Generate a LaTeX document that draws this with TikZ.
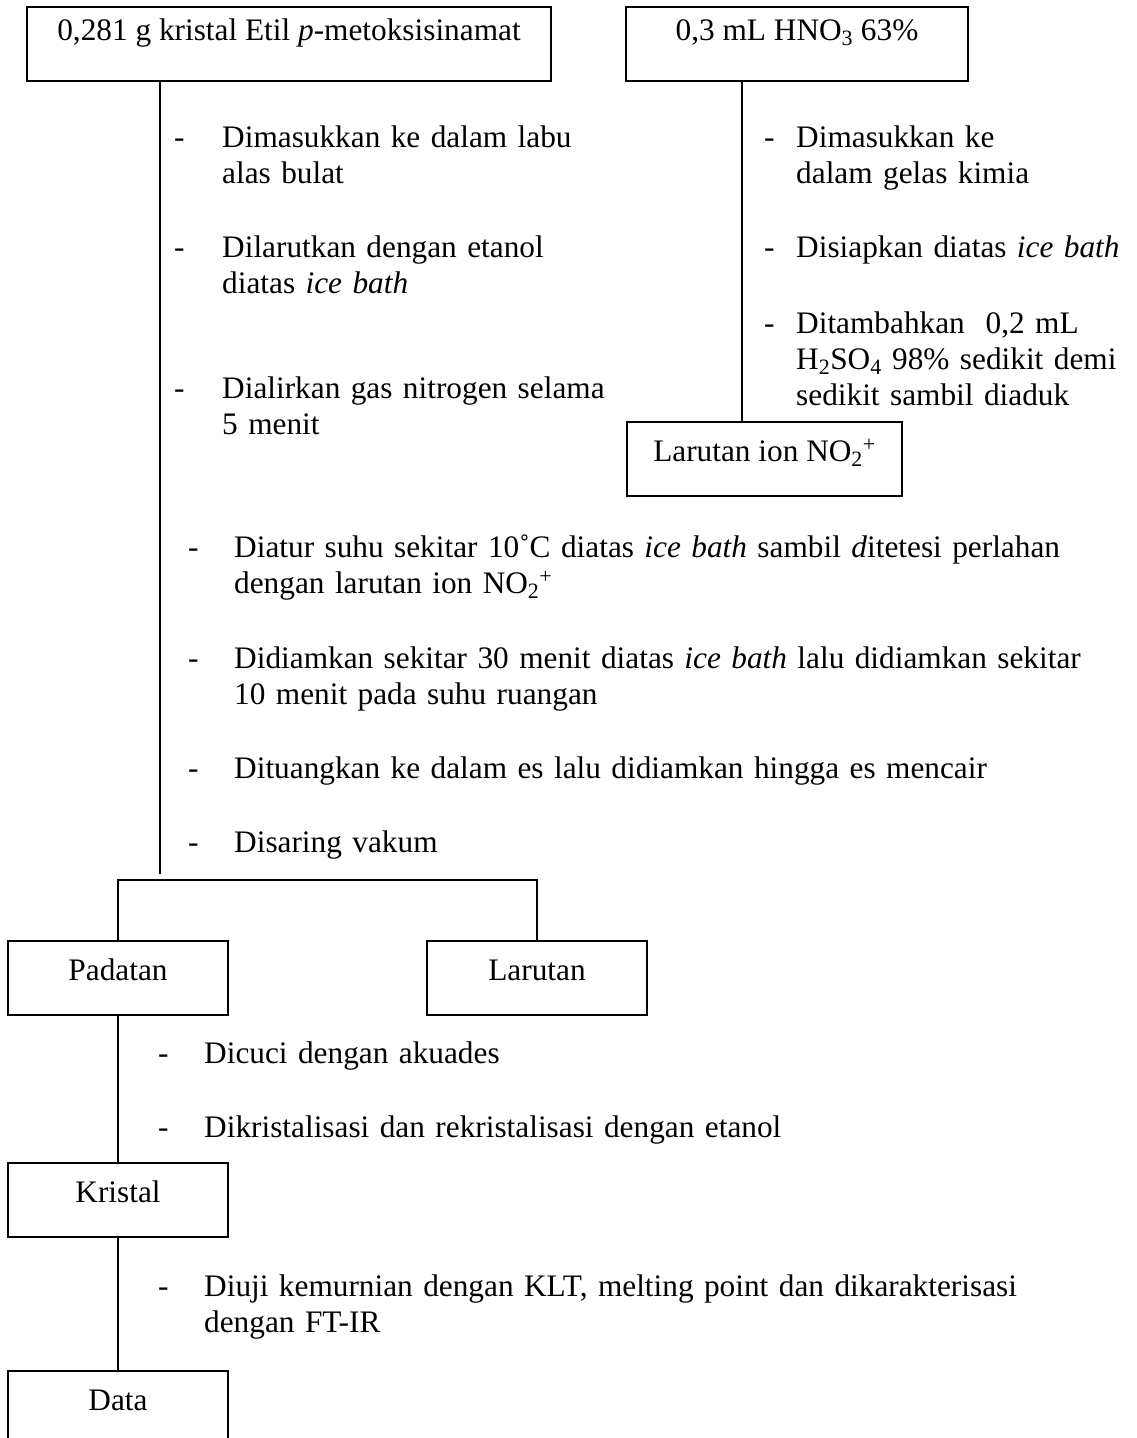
\documentclass[tikz,border=0pt]{standalone}
\usepackage{fontspec}
\setmainfont{Liberation Serif}
\begin{document}
\begin{tikzpicture}[
      x=1pt, y=-1pt,
      font=\fontsize{31.3pt}{36pt}\selectfont,
      box/.style={draw,line width=1.5pt,inner sep=0pt,text height=39pt,text depth=35pt},
      topbox/.style={box,text height=33pt,text depth=41pt},
      item/.style={anchor=base west,inner sep=0pt,align=left},
      hyph/.style={anchor=base west,inner sep=0pt},
      flow/.style={line width=1.5pt}
    ]
    \useasboundingbox (0,0) rectangle (1137,1438);
    % Draw the boxes.
    \node[topbox,minimum width=524pt] (etil) at (289,44) {0,281 g kristal Etil \textit{p}-metoksisinamat};
    \node[topbox,minimum width=342pt] (hno) at (797,44) {0,3 mL HNO\textsubscript{3} 63\%};
    \node[box,minimum width=275pt] (no2) at (764.5,459) {Larutan ion NO\textsubscript{2}\textsuperscript{+}};
    \node[box,minimum width=220pt] (padatan) at (118,978) {Padatan};
    \node[box,minimum width=220pt] (larutan) at (537,978) {Larutan};
    \node[box,minimum width=220pt] (kristal) at (118,1200) {Kristal};
    \node[box,minimum width=220pt] (data) at (118,1408) {Data};
    % Draw the connectors.
    \coordinate (mainEnd) at (160,874);
    \coordinate (no2tap) at (742,422);
    \coordinate (split) at (326,880);
    \draw[flow] (etil.south -| mainEnd) -- (mainEnd);
    \draw[flow] (hno.south -| no2tap) -- (no2tap);
    \draw[flow] (padatan.north) |- (split) -| (larutan.north);
    \draw[flow] (padatan.south) -- (kristal.north);
    \draw[flow] (kristal.south) -- (data.north);
    % Draw the steps, left column.
    \node[hyph] (h1) at (174,147) {-};
    \node[item,text width=400pt] (s1) at (222,147) {Dimasukkan ke dalam labu\\alas bulat};
    \node[hyph] (h2) at (174,257) {-};
    \node[item,text width=400pt] (s2) at (222,257) {Dilarutkan dengan etanol\\diatas \textit{ice bath}};
    \node[hyph] (h3) at (174,398) {-};
    \node[item,text width=400pt] (s3) at (222,398) {Dialirkan gas nitrogen selama\\5 menit};
    % Draw the steps, right column.
    \node[hyph] (h4) at (764,147) {-};
    \node[item,text width=340pt] (s4) at (796,147) {Dimasukkan ke\\dalam gelas kimia};
    \node[hyph] (h5) at (764,257) {-};
    \node[item,text width=340pt] (s5) at (796,257) {Disiapkan diatas \textit{ice bath}};
    \node[hyph] (h6) at (764,333) {-};
    \node[item,text width=340pt] (s6) at (796,333) {Ditambahkan\ \ 0,2 mL\\H\textsubscript{2}SO\textsubscript{4} 98\% sedikit demi\\sedikit sambil diaduk};
    % Draw the steps, middle column.
    \node[hyph] (h7) at (188,557) {-};
    \node[item,text width=880pt] (s7) at (234,557) {Diatur suhu sekitar 10˚C diatas \textit{ice bath} sambil \textit{d}itetesi perlahan\\dengan larutan ion NO\textsubscript{2}\textsuperscript{+}};
    \node[hyph] (h8) at (188,668) {-};
    \node[item,text width=880pt] (s8) at (234,668) {Didiamkan sekitar 30 menit diatas \textit{ice bath} lalu didiamkan sekitar\\10 menit pada suhu ruangan};
    \node[hyph] (h9) at (188,778) {-};
    \node[item,text width=880pt] (s9) at (234,778) {Dituangkan ke dalam es lalu didiamkan hingga es mencair};
    \node[hyph] (h10) at (188,852) {-};
    \node[item,text width=880pt] (s10) at (234,852) {Disaring vakum};
    % Draw the steps, bottom column.
    \node[hyph] (h11) at (158,1063) {-};
    \node[item,text width=880pt] (s11) at (204,1063) {Dicuci dengan akuades};
    \node[hyph] (h12) at (158,1137) {-};
    \node[item,text width=880pt] (s12) at (204,1137) {Dikristalisasi dan rekristalisasi dengan etanol};
    \node[hyph] (h13) at (158,1296) {-};
    \node[item,text width=880pt] (s13) at (204,1296) {Diuji kemurnian dengan KLT, melting point dan dikarakterisasi\\dengan FT-IR};
\end{tikzpicture}
\end{document}
